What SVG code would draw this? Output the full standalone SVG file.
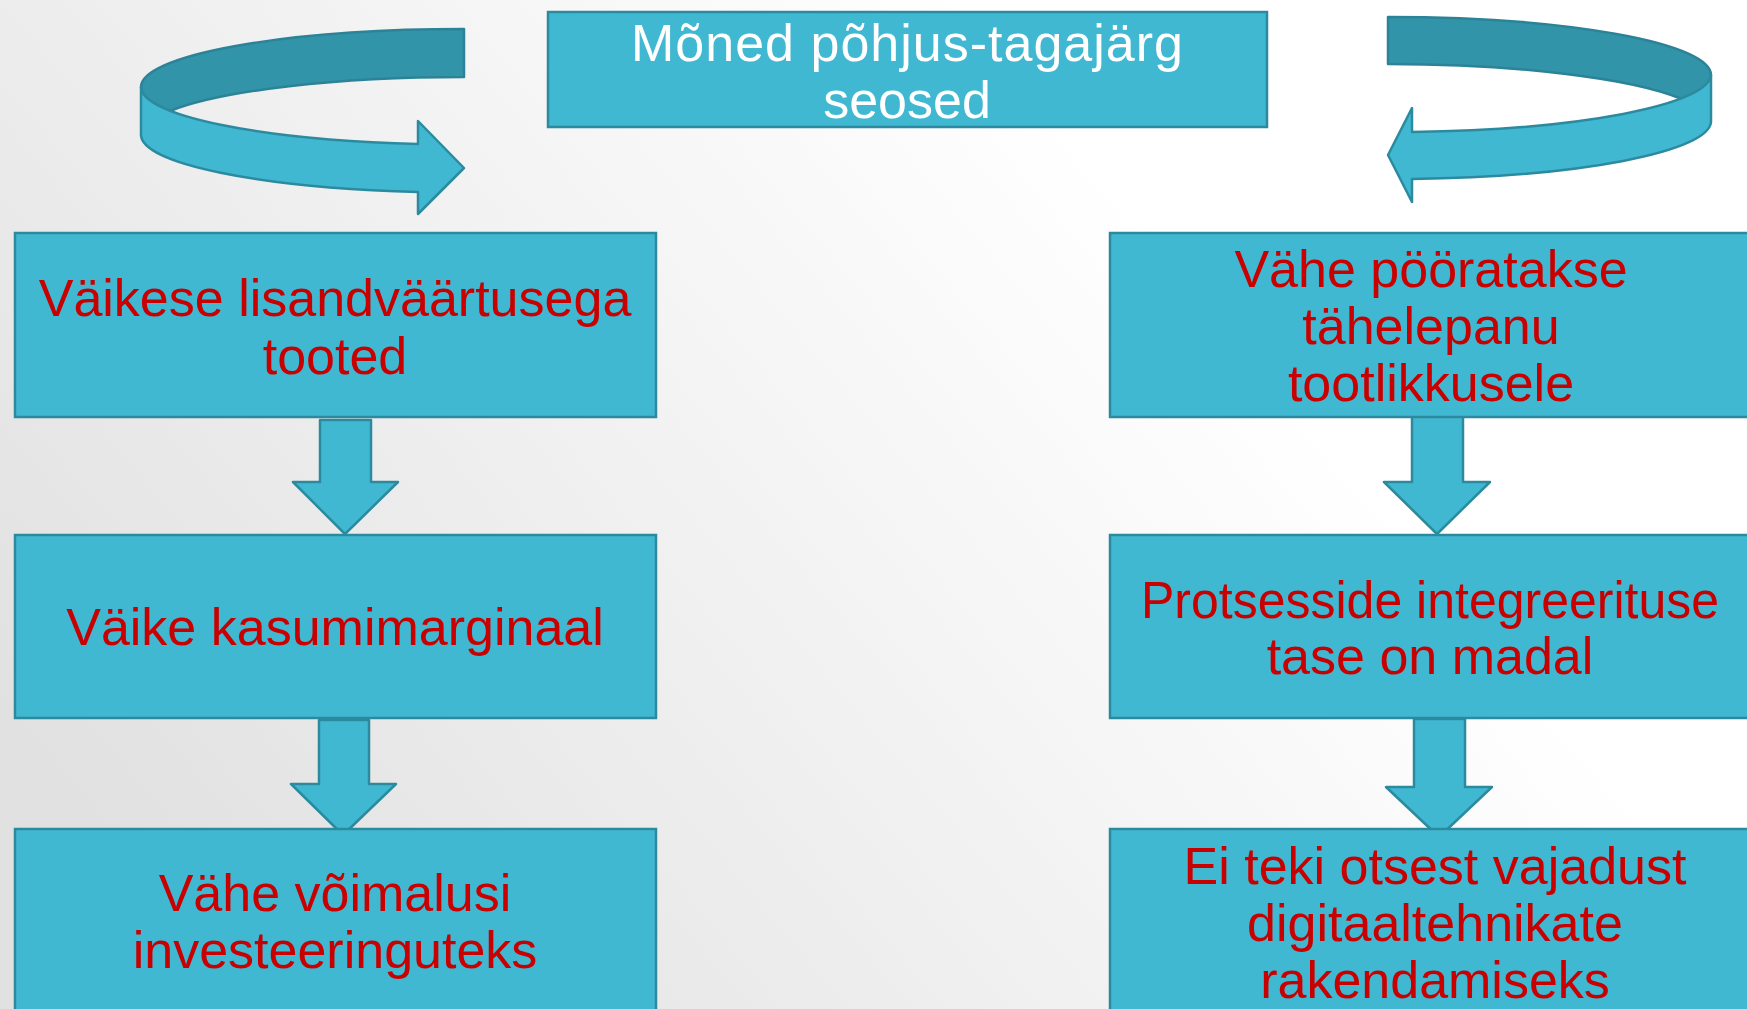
<svg xmlns="http://www.w3.org/2000/svg" width="1747" height="1009" viewBox="0 0 1747 1009">
<defs>
<linearGradient id="bg" x1="0" y1="0.7" x2="0.72" y2="0.35">
<stop offset="0" stop-color="#e1e1e1"/>
<stop offset="1" stop-color="#ffffff"/>
</linearGradient>
<style>
.box{fill:#40B8D2;stroke:#2C8A9F;stroke-width:2.5}
.dark{fill:#3294A8;stroke:#2C8397;stroke-width:2.5;stroke-linejoin:round}
.light{fill:#40B8D2;stroke:#2C8A9F;stroke-width:2.5;stroke-linejoin:round}
.t{font-family:"Liberation Sans",Arial,sans-serif;font-size:52px;text-anchor:middle;fill:#C80000}
.w{fill:#ffffff}
</style>
</defs>
<rect x="0" y="0" width="1747" height="1009" fill="url(#bg)"/>

<g id="connectors">
<g id="curl-left">
<path class="dark" d="M464,29 A323,58 0 0 0 141,87 A323,58 0 0 0 170,111 A323,58 0 0 1 464,77 Z"/>
<path class="light" d="M141,87 L141,135 A323,58 0 0 0 418,192 L418,214 L464,168 L418,121 L418,144 A323,58 0 0 1 141,87 Z"/>
</g>
<g id="curl-right">
<path class="dark" d="M1388,17 A323,58 0 0 1 1711,75 A323,58 0 0 1 1682,99 A323,58 0 0 0 1388,64 Z"/>
<path class="light" d="M1711,75 L1711,122 A323,58 0 0 1 1412,179 L1412,202 L1388,155 L1412,108 L1412,132 A323,58 0 0 0 1711,75 Z"/>
</g>
<path id="arrow-l1" class="light" d="M320,420 L371,420 L371,482 L398,482 L345,534 L293,482 L320,482 Z"/>
<path id="arrow-l2" class="light" d="M319,720 L369,720 L369,784 L396,784 L343,835 L291,784 L319,784 Z"/>
<path id="arrow-r1" class="light" d="M1412,414 L1463,414 L1463,482 L1490,482 L1437,534 L1384,482 L1412,482 Z"/>
<path id="arrow-r2" class="light" d="M1414,719 L1465,719 L1465,787 L1492,787 L1439,837 L1386,787 L1414,787 Z"/>
</g>

<g id="title">
<rect class="box" x="548" y="12" width="719" height="115"/>
<text class="t w" x="907" y="61" textLength="552" lengthAdjust="spacing">Mõned põhjus-tagajärg</text>
<text class="t w" x="907" y="118">seosed</text>
</g>

<g id="node-l1">
<rect class="box" x="15" y="233" width="641" height="184"/>
<text class="t" x="335" y="316">Väikese lisandväärtusega</text>
<text class="t" x="335" y="374">tooted</text>
</g>
<g id="node-l2">
<rect class="box" x="15" y="535" width="641" height="183"/>
<text class="t" x="335" y="645">Väike kasumimarginaal</text>
</g>
<g id="node-l3">
<rect class="box" x="15" y="829" width="641" height="200"/>
<text class="t" x="335" y="911">Vähe võimalusi</text>
<text class="t" x="335" y="968">investeeringuteks</text>
</g>

<g id="node-r1">
<rect class="box" x="1110" y="233" width="660" height="184"/>
<text class="t" x="1431" y="287">Vähe pööratakse</text>
<text class="t" x="1431" y="344">tähelepanu</text>
<text class="t" x="1431" y="401">tootlikkusele</text>
</g>
<g id="node-r2">
<rect class="box" x="1110" y="535" width="660" height="183"/>
<text class="t" x="1430" y="618" textLength="578" lengthAdjust="spacingAndGlyphs">Protsesside integreerituse</text>
<text class="t" x="1430" y="674">tase on madal</text>
</g>
<g id="node-r3">
<rect class="box" x="1110" y="829" width="660" height="200"/>
<text class="t" x="1435" y="884">Ei teki otsest vajadust</text>
<text class="t" x="1435" y="941">digitaaltehnikate</text>
<text class="t" x="1435" y="998">rakendamiseks</text>
</g>
</svg>
